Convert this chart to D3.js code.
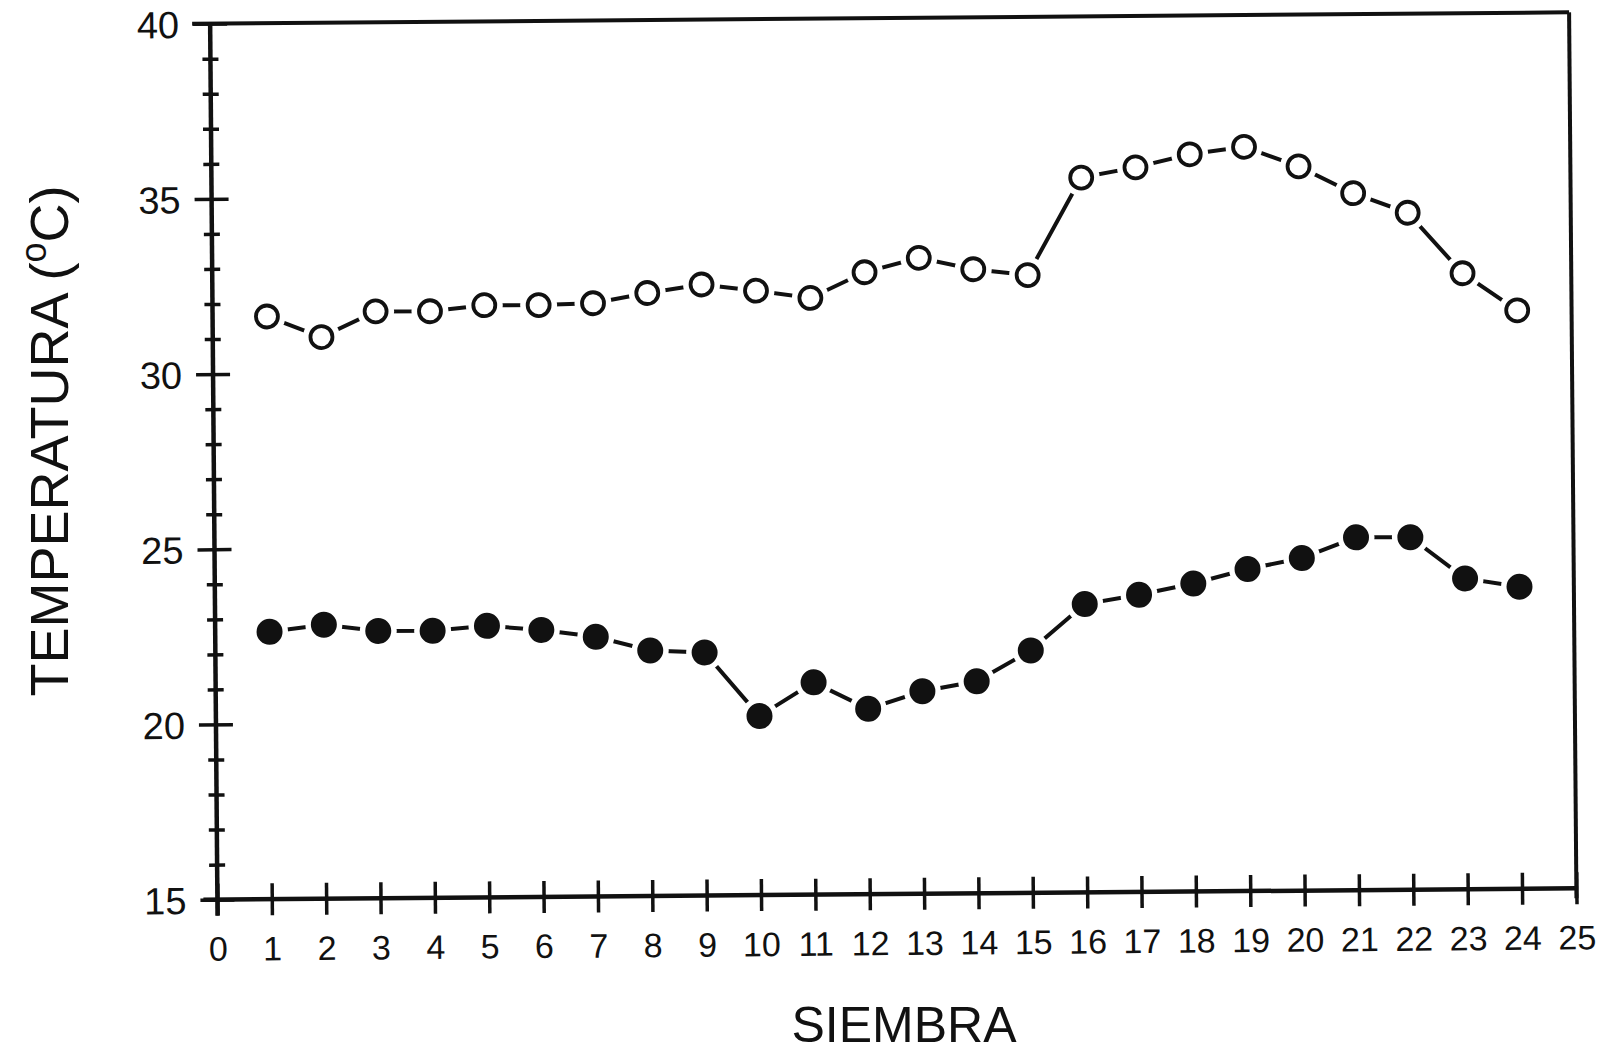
<!DOCTYPE html>
<html>
<head>
<meta charset="utf-8">
<script src="https://cdn.jsdelivr.net/npm/d3@7"></script>
<style>
  html, body { margin: 0; padding: 0; background: #fff; }
  svg { display: block; }
</style>
</head>
<body>
<svg id="chart" width="1611" height="1056"></svg>
<script>
// ---- data ----
const siembra = [1,2,3,4,5,6,7,8,9,10,11,12,13,14,15,16,17,18,19,20,21,22,23,24];
const tempMax = [31.63,31.03,31.75,31.74,31.9,31.89,31.93,32.21,32.44,32.25,32.03,32.75,33.15,32.81,32.63,35.4,35.68,36.04,36.24,35.67,34.89,34.32,32.58,31.51];
const tempMin = [22.63,22.82,22.63,22.62,22.75,22.62,22.41,22.01,21.94,20.11,21.06,20.29,20.78,21.05,21.92,23.23,23.48,23.79,24.19,24.49,25.07,25.06,23.87,23.62];
const xTicks = [0,1,2,3,4,5,6,7,8,9,10,11,12,13,14,15,16,17,18,19,20,21,22,23,24,25];
const yMajor = [15,20,25,30,35,40];
const yMinor = [16,17,18,19,21,22,23,24,26,27,28,29,31,32,33,34,36,37,38,39];

// ---- layout ----
const L = 213.75, R = 1572.75, T = 18, B = 894;
const ink = "#111";
const font = "'Liberation Sans', Arial, sans-serif";
const svg = d3.select("#chart");
const g = svg.append("g").attr("transform", "rotate(-0.476 893.25 456)");

const x = d3.scaleLinear().domain([0, 25]).range([L, R]);
const y = d3.scaleLinear().domain([15, 40]).range([B, T]);

// frame (top and right)
g.append("line").attr("x1", L - 18).attr("x2", R).attr("y1", T).attr("y2", T)
  .attr("stroke", ink).attr("stroke-width", 4);
g.append("line").attr("x1", R).attr("x2", R).attr("y1", T).attr("y2", B + 10)
  .attr("stroke", ink).attr("stroke-width", 4);

// y minor ticks
const yMinAx = g.append("g").attr("transform", `translate(${L},0)`)
  .call(d3.axisLeft(y).tickValues(yMinor).tickSize(8).tickFormat(""));
yMinAx.selectAll(".tick line").attr("x2", -8).attr("x1", 8).attr("stroke", ink).attr("stroke-width", 3.5);
yMinAx.select(".domain").remove();

// y major ticks + labels
const yAx = g.append("g").attr("transform", `translate(${L},0)`)
  .call(d3.axisLeft(y).tickValues(yMajor).tickSize(17).tickPadding(14).tickFormat(d3.format("d")));
yAx.selectAll(".tick line").attr("x2", -17).attr("x1", 17).attr("stroke", ink).attr("stroke-width", 3.5);
yAx.select(".domain").remove();
yAx.selectAll(".tick text")
  .attr("font-family", font)
  .attr("font-size", 38).attr("fill", ink).attr("dy", "0.36em");

// x ticks + labels
const xAx = g.append("g").attr("transform", `translate(0,${B})`)
  .call(d3.axisBottom(x).tickValues(xTicks).tickSize(16).tickPadding(21).tickFormat(d3.format("d")));
xAx.selectAll(".tick line").attr("y1", -16).attr("y2", 16).attr("stroke", ink).attr("stroke-width", 3.5);
xAx.select(".domain").remove();
xAx.selectAll(".tick text")
  .attr("font-family", font)
  .attr("font-size", 34).attr("fill", ink);

// axis lines
g.append("line").attr("x1", L).attr("x2", L).attr("y1", T).attr("y2", B + 16)
  .attr("stroke", ink).attr("stroke-width", 4.5);
g.append("line").attr("x1", L - 14).attr("x2", R).attr("y1", B).attr("y2", B)
  .attr("stroke", ink).attr("stroke-width", 4.5);

// series
function drawSeries(vals, filled) {
  const pts = siembra.map((s, i) => [s, vals[i]]);
  const line = d3.line().x(d => x(d[0])).y(d => y(d[1]));
  g.append("path").datum(pts).attr("d", line)
    .attr("fill", "none").attr("stroke", ink).attr("stroke-width", 4);
  // white gap around markers
  g.append("g").selectAll("circle").data(pts).join("circle")
    .attr("cx", d => x(d[0])).attr("cy", d => y(d[1])).attr("r", 18.5)
    .attr("fill", "#fff");
  g.append("g").selectAll("circle").data(pts).join("circle")
    .attr("cx", d => x(d[0])).attr("cy", d => y(d[1]))
    .attr("r", filled ? 13 : 11)
    .attr("fill", filled ? ink : "#fff")
    .attr("stroke", ink).attr("stroke-width", filled ? 0 : 3.8);
}
drawSeries(tempMax, false);
drawSeries(tempMin, true);

// axis titles
svg.append("text").attr("x", 904).attr("y", 1042)
  .attr("text-anchor", "middle")
  .attr("font-family", font)
  .attr("font-size", 50).attr("fill", ink)
  .text("SIEMBRA");

const yt = svg.append("text")
  .attr("transform", "translate(68,441) rotate(-90)")
  .attr("text-anchor", "middle")
  .attr("font-family", font)
  .attr("font-size", 54).attr("fill", ink);
yt.append("tspan").text("TEMPERATURA (");
yt.append("tspan").attr("font-size", 36).attr("dy", "-0.6em").text("o");
yt.append("tspan").attr("dy", "0.4em").text("C)");
</script>
</body>
</html>
